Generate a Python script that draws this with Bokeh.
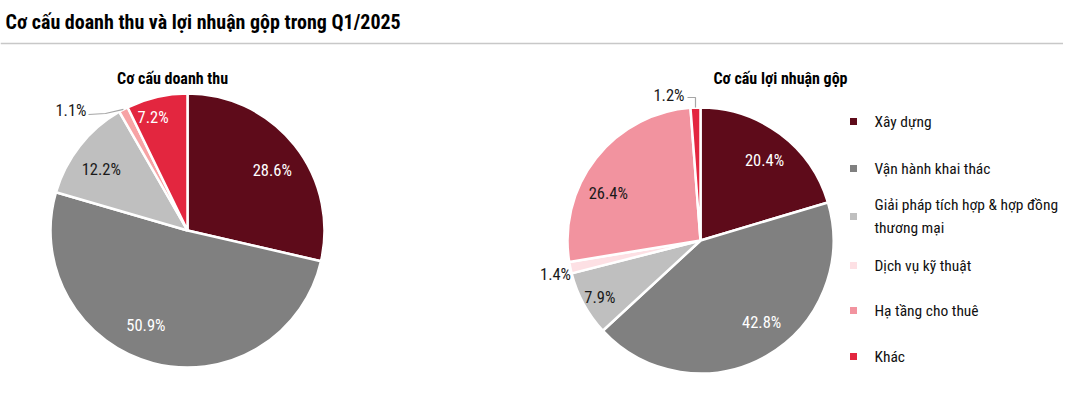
import math
from bokeh.plotting import figure
from bokeh.models import Range1d
from bokeh.core.properties import value
from bokeh.embed import file_html
from bokeh.resources import INLINE

# ---------------- data ----------------
title = "Cơ cấu doanh thu và lợi nhuận gộp trong Q1/2025"
left_title = "Cơ cấu doanh thu"
right_title = "Cơ cấu lợi nhuận gộp"

categories = ["Xây dựng", "Vận hành khai thác", "Giải pháp tích hợp & hợp đồng thương mại",
              "Dịch vụ kỹ thuật", "Hạ tầng cho thuê", "Khác"]
legend_lines = [["Xây dựng"], ["Vận hành khai thác"],
                ["Giải pháp tích hợp & hợp đồng", "thương mại"],
                ["Dịch vụ kỹ thuật"], ["Hạ tầng cho thuê"], ["Khác"]]
colors = ["#5e0b1a", "#808080", "#bfbfbf", "#fde0e4", "#f2939f", "#e3263f"]

revenue_labels = ["Xây dựng", "Vận hành khai thác", "Giải pháp", "Hạ tầng", "Khác"]
revenue_values = [28.6, 50.9, 12.2, 1.1, 7.2]
revenue_colors = ["#5e0b1a", "#808080", "#bfbfbf", "#f7a3a5", "#e3263f"]

profit_values = [20.4, 42.8, 7.9, 1.4, 26.4, 1.2]

# ---------------- layout (style) ----------------
W, H = 1063, 378
def X(rx):  # reference pixel -> data
    return rx
def Y(ry):
    return H - ry

FONT = "Roboto Condensed"
LBL = "16.5px"

p = figure(width=W, height=H, output_backend="svg", toolbar_location=None,
           x_range=Range1d(0, W), y_range=Range1d(0, H), min_border=0)
p.axis.visible = False
p.grid.visible = False
p.outline_line_color = None
p.background_fill_color = "white"
p.border_fill_color = "white"

# title and separator
p.text(x=[X(5)], y=[Y(21)], text=[title], text_font=value(FONT), text_font_style="bold",
       text_font_size="20px", text_color="#000000", text_baseline="middle", text_align="left")
p.segment(x0=[0], y0=[Y(43)], x1=[W], y1=[Y(43)], line_color="#c8c8c8", line_width=1.5)


def draw_pie(cx, cy, r, vals, cols, label_specs, fmt_colors):
    total = sum(vals)
    cum = 0.0
    starts, ends, mids = [], [], []
    for v in vals:
        a0 = math.pi / 2 - 2 * math.pi * (cum + v) / total
        a1 = math.pi / 2 - 2 * math.pi * cum / total
        starts.append(a0)
        ends.append(a1)
        mids.append((a0 + a1) / 2)
        cum += v
    p.wedge(x=[cx] * len(vals), y=[cy] * len(vals), radius=r,
            start_angle=starts, end_angle=ends, fill_color=cols,
            line_color="white", line_width=2.5)
    tx, ty, tt, tc = [], [], [], []
    for i, v in enumerate(vals):
        spec = label_specs[i]
        if spec is None:
            continue
        dang, frac = spec
        a = mids[i] + math.radians(dang)
        tx.append(cx + frac * r * math.cos(a))
        ty.append(cy + frac * r * math.sin(a))
        tt.append(f"{v:.1f}%")
        tc.append(fmt_colors[i])
    p.text(x=tx, y=ty, text=tt, text_color=tc, text_font=value(FONT),
           text_font_size=LBL, text_align="center", text_baseline="middle")
    return mids


# left pie
lcx, lcy, lr = X(187), Y(230), 137
lmids = draw_pie(lcx, lcy, lr, revenue_values, revenue_colors,
                 [(-3, 0.76), (-9, 0.76), (3, 0.77), None, (4, 0.86)],
                 ["white", "white", "#1a1a1a", "#1a1a1a", "white"])
# outside label 1.1% with leader
a = lmids[3]
ex, ey = lcx + lr * math.cos(a), lcy + lr * math.sin(a)
p.line(x=[ex, X(105), X(88)], y=[ey, Y(113), Y(114)], line_color="#a6a6a6", line_width=1.2)
p.text(x=[X(86)], y=[Y(110)], text=[f"{revenue_values[3]:.1f}%"], text_font=value(FONT),
       text_font_size=LBL, text_color="#1a1a1a", text_align="right", text_baseline="middle")

# right pie
rcx, rcy, rr = X(700), Y(240), 133
rmids = draw_pie(rcx, rcy, rr, profit_values, colors,
                 [(-2, 0.77), (7, 0.77), (1, 0.87), (1.5, 1.12), (11, 0.78), None],
                 ["white", "white", "#1a1a1a", "#1a1a1a", "#1a1a1a", "#1a1a1a"])
a = rmids[5]
ex, ey = rcx + rr * math.cos(a), rcy + rr * math.sin(a)
p.line(x=[ex, ex, X(687)], y=[ey, Y(97), Y(97)], line_color="#a6a6a6", line_width=1.2)
p.text(x=[X(684)], y=[Y(95)], text=[f"{profit_values[5]:.1f}%"], text_font=value(FONT),
       text_font_size=LBL, text_color="#1a1a1a", text_align="right", text_baseline="middle")

# subtitles
p.text(x=[X(172), X(780)], y=[Y(78), Y(78)], text=[left_title, right_title],
       text_font=value(FONT), text_font_style="bold", text_font_size="16px",
       text_color="#000000", text_align="center", text_baseline="middle")

# legend
leg_y = [121, 168, 216, 265, 310, 356]
line_gap = 23
sq_x, sq_y, lx, ly, lt = [], [], [], [], []
for i, lines in enumerate(legend_lines):
    sq_x.append(X(853))
    sq_y.append(Y(leg_y[i]))
    n = len(lines)
    top = leg_y[i] - (n - 1) * line_gap / 2
    for j, s in enumerate(lines):
        lx.append(X(874))
        ly.append(Y(top + j * line_gap))
        lt.append(s)
p.scatter(x=sq_x, y=sq_y, marker="square", size=7, fill_color=colors, line_color=None)
p.text(x=lx, y=ly, text=lt, text_font=value(FONT), text_font_size="15.5px",
       text_color="#111111", text_align="left", text_baseline="middle")

open("out.html", "w").write(file_html(p, INLINE))
